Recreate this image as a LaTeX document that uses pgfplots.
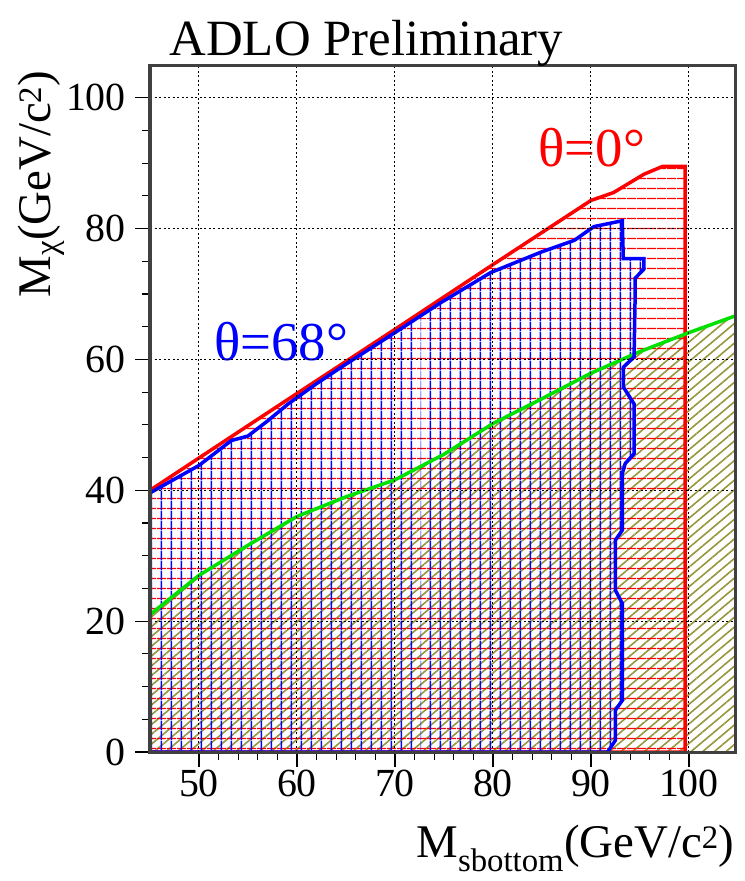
\documentclass[border=0pt]{standalone}
\usepackage{fontspec}
\setmainfont{Liberation Serif}
\usepackage{pgfplots}
\pgfplotsset{compat=1.18}
\usetikzlibrary{patterns.meta}
\definecolor{hatcholive}{RGB}{150,150,60}
\definecolor{limgreen}{RGB}{0,225,0}

\begin{document}
\begin{tikzpicture}
\useasboundingbox (0,0) rectangle (745bp,-881bp);
\begin{axis}[
    at={(150bp,-752bp)}, anchor=south west,
    scale only axis, width=585bp, height=687bp,
    xmin=45, xmax=104.7, ymin=0, ymax=105,
    xtick={50,60,...,100}, ytick={0,20,...,100},
    minor x tick num=4, minor y tick num=3,
    tick pos=left, tick align=outside,
    major tick length=15bp, minor tick length=8bp,
    tick style={black, line width=1.2bp},
    grid=major,
    major grid style={black, line width=1bp, dash pattern=on 2bp off 2.5bp},
    axis line style={line width=3bp, black!75},
    axis on top,
    /pgf/number format/assume math mode=true,
    tick label style={font=\fontsize{40}{40}\selectfont, inner sep=3bp},
    yticklabel style={xshift=-6bp},
    every axis title/.style={at={(axis description cs:0.37,1)}, anchor=base,
        yshift=10bp, font=\fontsize{51}{51}\selectfont},
    title={ADLO Preliminary},
    every axis x label/.style={at={(axis description cs:1.005,0)}, anchor=base east,
        yshift=-105bp, font=\fontsize{47}{47}\selectfont},
    xlabel={M\textsubscript{sbottom}(GeV/c\textsuperscript{2})},
    every axis y label/.style={at={(axis description cs:-0.17,0.997)}, anchor=base east,
        rotate=90, font=\fontsize{47}{47}\selectfont},
    ylabel={M\textsubscript{χ}(GeV/c\textsuperscript{2})},
]
% region below the green line
\addplot[draw=none, pattern={Lines[angle=40, distance=7.5bp, line width=1.6bp]},
    pattern color=hatcholive] coordinates {
    (45,21) (50,27) (55,31.6) (60,36) (65,39) (70,41.6) (75,45.5)
    (80,50.2) (85,54) (90,57.9) (95,61.2) (100,64.1) (105,66.8)} \closedcycle;
% theta = 0 region
\addplot[draw=none, pattern={Lines[angle=0, distance=9.5bp, line width=1.5bp]},
    pattern color=red] coordinates {
    (45,0) (45,40) (53.3,48.2) (60,54.8) (70,64.6) (80,74.5) (90,84.3)
    (92.3,85.5) (95.4,88.3) (97.3,89.5) (99.6,89.5) (99.6,0)} -- cycle;
% theta = 68 region
\addplot[draw=none, pattern={Lines[angle=90, distance=9.7bp, line width=1.5bp]},
    pattern color=blue] coordinates {
    (45,0) (45,39.6) (50,43.8) (53.3,47.6) (55,48.3) (57,50.6) (59.1,53.2)
    (62,56.3) (64.5,58.8) (70,64.1) (74.7,68.7) (79.8,73.3) (84.9,76.4)
    (88.3,78.2) (90.3,80.3) (93.2,81.2) (93.3,75.4) (95.4,75.4) (95.4,73.8)
    (94.5,72.4) (94.5,69) (94.4,60.4) (93.3,58.8) (93.3,55.8) (94.4,53.2)
    (94.4,45.6) (93.5,44.1) (93.2,42.6) (93.2,33.9) (92.5,32.4) (92.5,24.7)
    (93.2,22.7) (93.2,7.9) (92.5,6.4) (92.5,1.8) (91.7,0)} -- cycle;
% outlines
\addplot[red, line width=3.5bp] coordinates {
    (45,0) (45,40) (53.3,48.2) (60,54.8) (70,64.6) (80,74.5) (90,84.3)
    (92.3,85.5) (95.4,88.3) (97.3,89.5) (99.6,89.5) (99.6,0)} -- cycle;
\addplot[limgreen, line width=3.5bp] coordinates {
    (45,21) (50,27) (55,31.6) (60,36) (65,39) (70,41.6) (75,45.5)
    (80,50.2) (85,54) (90,57.9) (95,61.2) (100,64.1) (105,66.8)};
\addplot[blue, line width=3.5bp] coordinates {
    (45,0) (45,39.6) (50,43.8) (53.3,47.6) (55,48.3) (57,50.6) (59.1,53.2)
    (62,56.3) (64.5,58.8) (70,64.1) (74.7,68.7) (79.8,73.3) (84.9,76.4)
    (88.3,78.2) (90.3,80.3) (93.2,81.2) (93.3,75.4) (95.4,75.4) (95.4,73.8)
    (94.5,72.4) (94.5,69) (94.4,60.4) (93.3,58.8) (93.3,55.8) (94.4,53.2)
    (94.4,45.6) (93.5,44.1) (93.2,42.6) (93.2,33.9) (92.5,32.4) (92.5,24.7)
    (93.2,22.7) (93.2,7.9) (92.5,6.4) (92.5,1.8) (91.7,0)} -- cycle;
\node[red, font=\fontsize{55}{55}\selectfont] at (axis cs:90.1,92.4) {θ=0°};
\node[blue, font=\fontsize{55}{55}\selectfont] at (axis cs:58.4,62.7) {θ=68°};
\end{axis}
\end{tikzpicture}
\end{document}
